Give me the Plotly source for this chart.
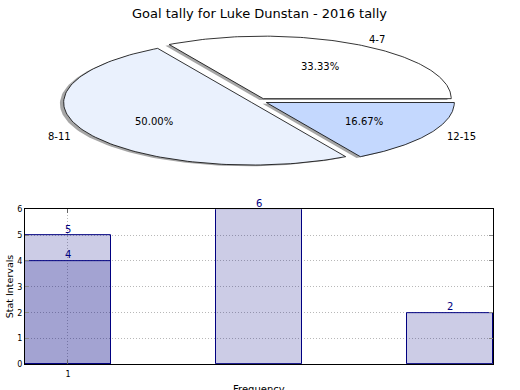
import numpy as np
import plotly.graph_objects as go

# ---- data ----
pie_labels = ["4-7", "8-11", "12-15"]
pie_values = [2, 3, 1]
pie_colors = ["#ffffff", "#eaf1fd", "#c4d8fe"]
explode = 0.045

bar_x = [1, 2, 3]
bar_values_a = [5, 6, 2]
bar_x_b = [1]
bar_values_b = [4]
x_tickvals = [1]
x_ticktext = ["1"]
y_ticks = [0, 1, 2, 3, 4, 5, 6]

title_text = "Goal tally for Luke Dunstan - 2016 tally"
font_family = "DejaVu Sans"

W, H = 520, 390
fig = go.Figure()

# ---- pie built as filled shapes on an xy axis (elliptical, like the reference) ----
total = sum(pie_values)
angles = np.cumsum([0] + [v / total * 360 for v in pie_values])
wedges = []
for i, v in enumerate(pie_values):
    t1, t2 = angles[i], angles[i + 1]
    mid = np.deg2rad((t1 + t2) / 2)
    cx, cy = explode * np.cos(mid), explode * np.sin(mid)
    th = np.deg2rad(np.linspace(t1, t2, 120))
    xs = np.concatenate([[cx], cx + np.cos(th), [cx]])
    ys = np.concatenate([[cy], cy + np.sin(th), [cy]])
    wedges.append((xs, ys, cx, cy, mid, v))

# shadows first
for xs, ys, cx, cy, mid, v in wedges:
    fig.add_trace(go.Scatter(
        x=xs - 0.02, y=ys - 0.02, mode="lines", fill="toself",
        fillcolor="rgba(77,77,77,0.5)", line=dict(width=0),
        xaxis="x2", yaxis="y2", hoverinfo="skip", showlegend=False))
for (xs, ys, cx, cy, mid, v), col in zip(wedges, pie_colors):
    fig.add_trace(go.Scatter(
        x=xs, y=ys, mode="lines", fill="toself", fillcolor=col,
        line=dict(color="black", width=0.8),
        xaxis="x2", yaxis="y2", hoverinfo="skip", showlegend=False))

annotations = []
for (xs, ys, cx, cy, mid, v), lab in zip(wedges, pie_labels):
    lx, ly = cx + 1.1 * np.cos(mid), cy + 1.1 * np.sin(mid)
    annotations.append(dict(
        x=lx, y=ly, xref="x2", yref="y2", text=lab, showarrow=False,
        xanchor="left" if lx > 0 else "right", yanchor="middle",
        font=dict(size=10, color="black", family=font_family)))
    px, py = cx + 0.6 * np.cos(mid), cy + 0.6 * np.sin(mid)
    annotations.append(dict(
        x=px, y=py, xref="x2", yref="y2", text="%.2f%%" % (v / total * 100),
        showarrow=False, xanchor="center", yanchor="middle",
        font=dict(size=10, color="black", family=font_family)))

# ---- bars ----
bar_fill = "rgba(0,0,128,0.2)"
fig.add_trace(go.Bar(
    x=bar_x, y=bar_values_a, width=0.45, marker=dict(color=bar_fill, line=dict(color="navy", width=1)),
    showlegend=False, hoverinfo="skip"))
fig.add_trace(go.Bar(
    x=bar_x_b, y=bar_values_b, width=0.45, marker=dict(color=bar_fill, line=dict(color="navy", width=1)),
    showlegend=False, hoverinfo="skip"))
for bx, bv in zip(bar_x + bar_x_b, bar_values_a + bar_values_b):
    annotations.append(dict(x=bx, y=bv, xref="x", yref="y", text=str(bv), showarrow=False,
                            xanchor="center", yanchor="middle", yshift=6,
                            font=dict(size=10, color="navy", family=font_family)))

# title & axis titles
annotations.append(dict(x=259 / W, y=1 - 10 / H, xref="paper", yref="paper", text=title_text,
                        showarrow=False, xanchor="center", yanchor="middle",
                        font=dict(size=13, color="black", family=font_family)))
annotations.append(dict(x=259 / W, y=-5 / H, xref="paper", yref="paper", text="Frequency",
                        showarrow=False, xanchor="center", yanchor="middle",
                        font=dict(size=10, color="black", family=font_family)))
annotations.append(dict(x=9 / W, y=(H - 289) / H, xref="paper", yref="paper", text="Stat Intervals",
                        showarrow=False, xanchor="center", yanchor="middle", textangle=-90,
                        font=dict(size=9.5, color="black", family=font_family)))

# pie axes geometry (pixels)
rx_px, ry_px = 188.0, 64.0
cx_px, cy_px = 259.0, 99.4
top_px, bot_px = 20.0, 180.0

grid_dash = "1px,2px"
fig.update_layout(
    width=W, height=H, margin=dict(l=0, r=0, t=0, b=0),
    paper_bgcolor="white", plot_bgcolor="white",
    barmode="overlay", bargap=0,
    font=dict(family=font_family, color="black"),
    annotations=annotations,
    xaxis=dict(domain=[25 / W, 493 / W], range=[0.775, 3.225],
               tickvals=x_tickvals, ticktext=x_ticktext,
               showline=True, linecolor="black", linewidth=1, mirror="ticks",
               ticks="inside", ticklen=4, tickcolor="#666", ticklabelstandoff=2,
               showgrid=True, gridcolor="#b8b8b8", griddash=grid_dash, gridwidth=1,
               tickfont=dict(size=8, color="black"), zeroline=False, fixedrange=True),
    yaxis=dict(domain=[(H - 369) / H, (H - 210) / H], range=[0, 6],
               tickvals=y_ticks, showline=True, linecolor="black", linewidth=1, mirror="ticks",
               ticks="inside", ticklen=4, tickcolor="#888",
               showgrid=True, gridcolor="#b8b8b8", griddash=grid_dash, gridwidth=1,
               tickfont=dict(size=8, color="black"), zeroline=False, fixedrange=True),
    xaxis2=dict(domain=[0, 1], range=[-cx_px / rx_px, (W - cx_px) / rx_px],
                visible=False, fixedrange=True, anchor="y2"),
    yaxis2=dict(domain=[(H - bot_px) / H, (H - top_px) / H],
                range=[-(bot_px - cy_px) / ry_px, (cy_px - top_px) / ry_px],
                visible=False, fixedrange=True, anchor="x2"),
)

fig.write_html("out.html", config={"displayModeBar": False},
               post_script="document.body.style.margin='0';document.body.style.overflow='hidden';")
